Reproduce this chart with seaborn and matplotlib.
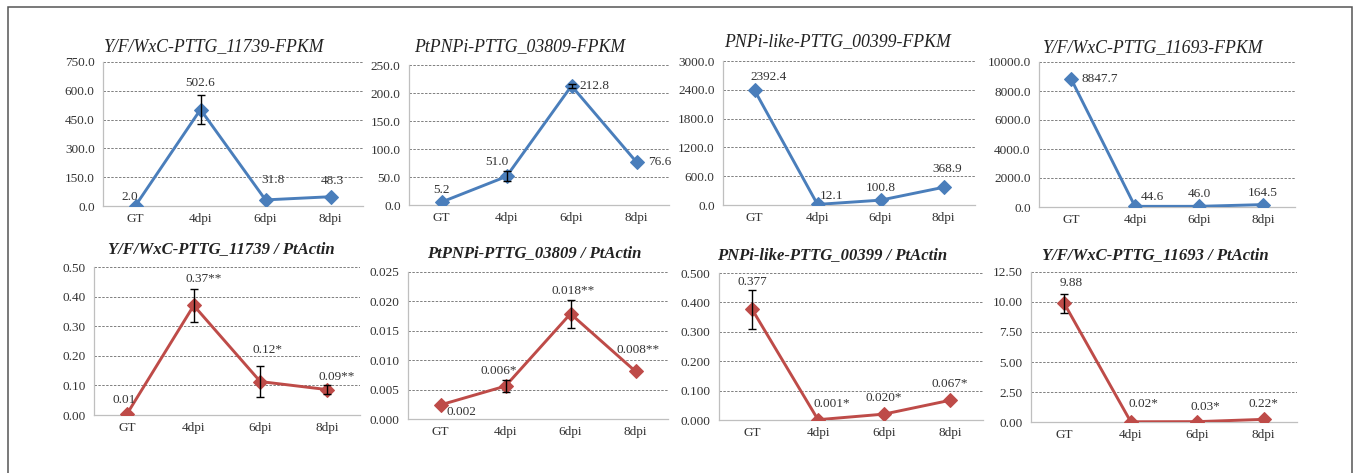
import numpy as np
import pandas as pd
import matplotlib
matplotlib.use("Agg")
import matplotlib.pyplot as plt
import seaborn as sns
from matplotlib.patches import Rectangle

sns.set_theme(style="white")
plt.rcParams['font.family'] = ['Liberation Serif', 'DejaVu Serif']

# ---------------- data ----------------
categories = ["GT", "4dpi", "6dpi", "8dpi"]

titles_top = ["Y/F/WxC-PTTG_11739-FPKM", "PtPNPi-PTTG_03809-FPKM",
              "PNPi-like-PTTG_00399-FPKM", "Y/F/WxC-PTTG_11693-FPKM"]
titles_bot = ["Y/F/WxC-PTTG_11739 / PtActin", "PtPNPi-PTTG_03809 / PtActin",
              "PNPi-like-PTTG_00399 / PtActin", "Y/F/WxC-PTTG_11693 / PtActin"]

fpkm_11739 = [2.0, 502.6, 31.8, 48.3]
fpkm_11739_err = [0, 78, 0, 0]
fpkm_03809 = [5.2, 51.0, 212.8, 76.6]
fpkm_03809_err = [0, 9, 4, 0]
fpkm_00399 = [2392.4, 12.1, 100.8, 368.9]
fpkm_00399_err = [0, 0, 0, 0]
fpkm_11693 = [8847.7, 44.6, 46.0, 164.5]
fpkm_11693_err = [0, 0, 0, 0]

rel_11739 = [0.005, 0.37, 0.113, 0.086]
rel_11739_err = [0, 0.057, 0.052, 0.016]
rel_11739_lbl = ["0.01", "0.37**", "0.12*", "0.09**"]
rel_03809 = [0.0024, 0.0056, 0.0179, 0.0081]
rel_03809_err = [0, 0.001, 0.0024, 0]
rel_03809_lbl = ["0.002", "0.006*", "0.018**", "0.008**"]
rel_00399 = [0.377, 0.001, 0.020, 0.067]
rel_00399_err = [0.066, 0, 0, 0]
rel_00399_lbl = ["0.377", "0.001*", "0.020*", "0.067*"]
rel_11693 = [9.88, 0.02, 0.03, 0.22]
rel_11693_err = [0.8, 0, 0, 0]
rel_11693_lbl = ["9.88", "0.02*", "0.03*", "0.22*"]

# y-axis ticks
yticks_top = [[0, 150, 300, 450, 600, 750],
              [0, 50, 100, 150, 200, 250],
              [0, 600, 1200, 1800, 2400, 3000],
              [0, 2000, 4000, 6000, 8000, 10000]]
yticks_bot = [[0, 0.1, 0.2, 0.3, 0.4, 0.5],
              [0, 0.005, 0.010, 0.015, 0.020, 0.025],
              [0, 0.1, 0.2, 0.3, 0.4, 0.5],
              [0, 2.5, 5.0, 7.5, 10.0, 12.5]]

# ---------------- layout / style ----------------
W, H = 1357, 473
BLUE = "#4A7EBB"
RED = "#BE4B48"

top_fmt = ["{:.1f}"] * 4
bot_fmt = ["{:.2f}", "{:.3f}", "{:.3f}", "{:.2f}"]

# axes rectangles in pixels: left, top, right, bottom
top_px = [(103, 62, 363, 206), (409, 65, 669, 205), (723, 61, 975, 205), (1039, 62, 1295, 207)]
bot_px = [(94, 267, 360, 415), (408, 272, 668, 419), (719, 273, 983, 420), (1031, 272, 1297, 422)]
top_title_pos = [(214, 47), (520, 47), (837, 42), (1153, 48)]
bot_title_pos = [(221, 249), (534, 253), (832, 255), (1155, 255)]

top_offsets = [[(-6, 9), (0, 27), (8, 20), (2, 16)],
               [(0, 12), (-10, 14), (23, 0), (23, 0)],
               [(14, 13), (14, 8), (0, 12), (4, 18)],
               [(29, 0), (17, 9), (0, 12), (0, 12)]]
bot_offsets = [[(-3, 14), (10, 26), (7, 32), (10, 13)],
               [(21, -7), (-7, 15), (3, 23), (3, 21)],
               [(0, 27), (14, 16), (0, 16), (0, 16)],
               [(7, 20), (13, 18), (8, 15), (0, 15)]]

fig = plt.figure(figsize=(W / 100, H / 100), dpi=100)

# outer frame
fig.patches.append(Rectangle((8 / W, -0.1), (1352 - 8) / W, 1.1 - 7 / H,
                             transform=fig.transFigure, fill=False,
                             edgecolor="#555555", linewidth=1.1))


def make_axes(px):
    l, t, r, b = px
    return fig.add_axes([l / W, (H - b) / H, (r - l) / W, (b - t) / H])


def draw_panel(px, values, errs, labels, yticks, fmt, color, title, tpos, offsets, bold):
    ax = make_axes(px)
    df = pd.DataFrame({"cat": categories, "val": values})
    sns.lineplot(data=df, x="cat", y="val", ax=ax, color=color, marker="D",
                 markersize=7, markeredgecolor=color, linewidth=2.1, sort=False,
                 zorder=3)
    xs = np.arange(len(categories))
    e = np.array(errs, dtype=float)
    m = e > 0
    if m.any():
        ax.errorbar(xs[m], np.array(values)[m], yerr=e[m], fmt="none",
                    ecolor="black", elinewidth=1.0, capsize=3, capthick=1.0, zorder=4)
    for i, (v, lab) in enumerate(zip(values, labels)):
        dx, dy = offsets[i]
        ax.annotate(lab, (xs[i], v), xytext=(dx, dy), textcoords="offset pixels",
                    ha="center", va="center", fontsize=9.5, color="#333333", zorder=5)
    ax.set_xlim(-0.5, len(categories) - 0.5)
    ax.set_ylim(yticks[0], yticks[-1])
    ax.set_yticks(yticks)
    ax.set_yticklabels([fmt.format(t) for t in yticks])
    ax.set_xticks(xs)
    ax.set_xticklabels(categories)
    ax.set_xticks(np.arange(-0.5, len(categories), 1.0), minor=True)
    ax.tick_params(axis="x", which="major", length=0, labelsize=9.5, pad=5, colors="#333333")
    ax.tick_params(axis="x", which="minor", length=4, color="#BFBFBF", width=0.8, direction="out")
    ax.tick_params(axis="y", which="major", length=0, labelsize=9.5, pad=6, colors="#333333")
    ax.set_xlabel("")
    ax.set_ylabel("")
    for yv in yticks[1:]:
        ax.axhline(yv, color="#7F7F7F", linestyle=(0, (2.5, 1.5)), linewidth=0.7, zorder=1)
    for s in ["top", "right"]:
        ax.spines[s].set_visible(False)
    for s in ["left", "bottom"]:
        ax.spines[s].set_color("#BFBFBF")
        ax.spines[s].set_linewidth(0.9)
    ax.set_facecolor("white")
    fig.text(tpos[0] / W, 1 - tpos[1] / H, title, ha="center", va="center",
             fontsize=12 if bold else 12.8, style="italic",
             fontweight="bold" if bold else "normal", color="#222222")
    return ax


top_data = [(fpkm_11739, fpkm_11739_err), (fpkm_03809, fpkm_03809_err),
            (fpkm_00399, fpkm_00399_err), (fpkm_11693, fpkm_11693_err)]
bot_data = [(rel_11739, rel_11739_err, rel_11739_lbl), (rel_03809, rel_03809_err, rel_03809_lbl),
            (rel_00399, rel_00399_err, rel_00399_lbl), (rel_11693, rel_11693_err, rel_11693_lbl)]

for i in range(4):
    vals, errs = top_data[i]
    labs = ["{:.1f}".format(v) for v in vals]
    draw_panel(top_px[i], vals, errs, labs, yticks_top[i], top_fmt[i], BLUE,
               titles_top[i], top_title_pos[i], top_offsets[i], False)
    vals, errs, labs = bot_data[i]
    draw_panel(bot_px[i], vals, errs, labs, yticks_bot[i], bot_fmt[i], RED,
               titles_bot[i], bot_title_pos[i], bot_offsets[i], True)

fig.savefig("out.png", dpi=100, facecolor="white")
